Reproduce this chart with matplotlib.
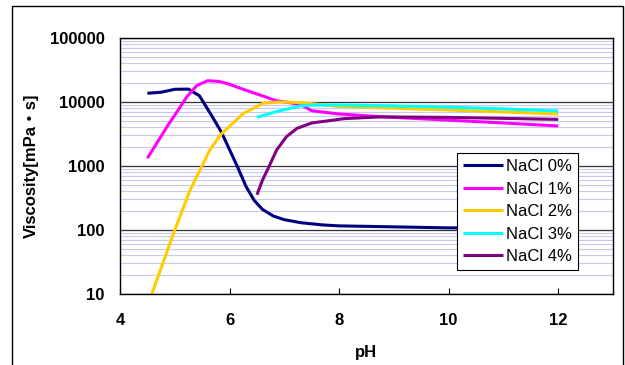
import numpy as np
import matplotlib
matplotlib.use("Agg")
import matplotlib.pyplot as plt
from matplotlib.patches import Rectangle
from matplotlib.ticker import LogLocator, FixedLocator, NullFormatter

plt.rcParams['font.family'] = ['Liberation Sans', 'Noto Sans CJK JP', 'DejaVu Sans']

# data (pH vs viscosity, mPa*s)
ph0 = [4.5, 4.75, 5.0, 5.25, 5.45, 5.65, 5.85, 6.0, 6.15, 6.3, 6.45, 6.6, 6.8, 7.0, 7.3, 7.7, 8.0, 9.0, 10.0, 11.0, 12.0]
v0 = [13700, 14200, 15800, 15900, 12500, 6600, 3400, 1800, 950, 480, 290, 210, 165, 145, 130, 120, 116, 112, 108, 108, 108]

ph1 = [4.5, 4.85, 5.22, 5.4, 5.6, 5.8, 5.95, 6.25, 6.55, 6.85, 7.3, 7.5, 8.0, 8.75, 10.0, 11.0, 12.0]
v1 = [1320, 4000, 12000, 18000, 21500, 21000, 19500, 15800, 12900, 10500, 9150, 7300, 6500, 5900, 5200, 4700, 4220]

ph2 = [4.58, 5.0, 5.28, 5.64, 5.83, 6.25, 6.62, 6.92, 7.3, 8.0, 9.0, 10.0, 11.0, 12.0]
v2 = [10, 100, 420, 1780, 3040, 6600, 9600, 10000, 9800, 8500, 8000, 7500, 7000, 6500]

ph3 = [6.5, 6.86, 7.29, 7.5, 8.0, 9.0, 10.0, 11.0, 12.0]
v3 = [5760, 7100, 8700, 8950, 9000, 8700, 8300, 7800, 7230]

ph4 = [6.5, 6.6, 6.7, 6.86, 7.04, 7.23, 7.5, 8.1, 8.75, 10.0, 11.0, 12.0]
v4 = [355, 600, 900, 1780, 2880, 3870, 4700, 5500, 5850, 5750, 5550, 5350]

labels = ["NaCl 0%", "NaCl 1%", "NaCl 2%", "NaCl 3%", "NaCl 4%"]
colors = ["#000080", "#FF00FF", "#FFCC00", "#00FFFF", "#800080"]

fig = plt.figure(figsize=(6.25, 3.65), dpi=100)
fig.patches.append(Rectangle((12 / 625, -0.1), 611 / 625, 1.1 - 6 / 365, transform=fig.transFigure,
                             fill=False, edgecolor="black", lw=1.0))
ax = fig.add_axes([120 / 625, 1 - 294 / 365, 493 / 625, 256 / 365])

for x, y, c, l in zip([ph0, ph1, ph2, ph3, ph4], [v0, v1, v2, v3, v4], colors, labels):
    ax.plot(x, y, color=c, lw=2.2, label=l, solid_capstyle="butt")

ax.set_yscale("log")
ax.set_xlim(4, 13)
ax.set_ylim(10, 100000)
ax.xaxis.set_major_locator(FixedLocator([4, 6, 8, 10, 12]))
ax.yaxis.set_major_locator(FixedLocator([10, 100, 1000, 10000, 100000]))
ax.yaxis.set_major_formatter(matplotlib.ticker.FuncFormatter(lambda v, p: f"{int(v)}"))
ax.yaxis.set_minor_locator(LogLocator(base=10, subs=np.arange(2, 10)))
ax.yaxis.set_minor_formatter(NullFormatter())
ax.grid(which="minor", axis="y", color="#C8C8F0", lw=0.8)
ax.grid(which="major", axis="y", color="#333333", lw=0.9)
ax.set_axisbelow(True)
ax.tick_params(axis="x", direction="in", length=4, labelsize=12, pad=14)
ax.tick_params(axis="y", which="both", length=0, labelsize=12, pad=11)
for t in ax.get_xticklabels() + ax.get_yticklabels():
    t.set_fontweight("bold")
for s in ax.spines.values():
    s.set_linewidth(1.0)

ax.set_xlabel("pH", fontsize=12, fontweight="bold", labelpad=12)
ax.set_ylabel("Viscosity[mPa・s]", fontsize=12, fontweight="bold", labelpad=8)

leg = ax.legend(loc="lower left", bbox_to_anchor=((457 - 120) / 493, (294 - 270) / 256), fontsize=12,
                frameon=True, fancybox=False, edgecolor="black", framealpha=1, borderpad=0.35,
                handlelength=2.4, handletextpad=0.2, labelspacing=0.45, borderaxespad=0)
leg.get_frame().set_linewidth(0.8)

fig.savefig("out.png", dpi=100)
